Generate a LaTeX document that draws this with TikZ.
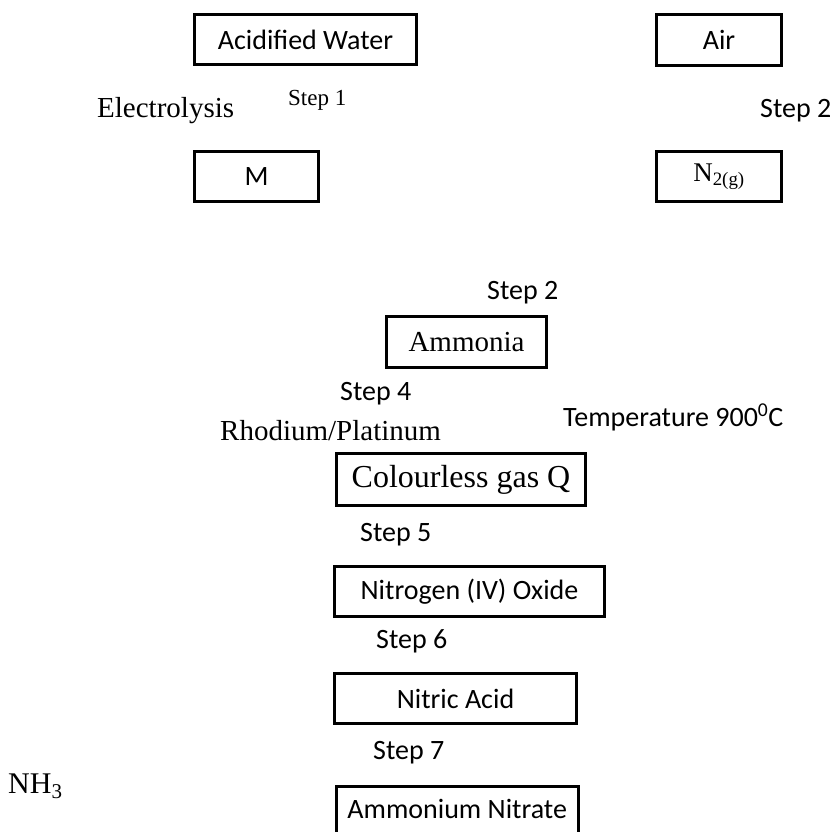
\documentclass[tikz,border=0pt]{standalone}
\usepackage{fontspec}
\setmainfont{Liberation Serif}
\newfontfamily\calibri{Carlito}
\begin{document}
\begin{tikzpicture}[x=1pt,y=-1pt,
  box/.style={draw, line width=3.4pt, inner sep=0pt},
  sanstxt/.style={font=\calibri\fontsize{28}{30}\selectfont},
  lbl/.style={inner sep=0pt, anchor=base west}]
\path[use as bounding box] (0,0) rectangle (835,831);
\clip (0,0) rectangle (835,831);
% boxes
\node[box, sanstxt, minimum width=222pt, minimum height=50pt] (aw) at (305.5,39.5) {Acidified Water};
\node[box, sanstxt, minimum width=125pt, minimum height=51pt] (air) at (719,40) {Air};
\node[box, sanstxt, minimum width=124pt, minimum height=50pt] (m) at (256.5,176.5) {M};
\node[box, font=\fontsize{27}{29}\selectfont, minimum width=125pt, minimum height=50pt] (n2) at (719,176.5) {N\textsubscript{2(g)}};
\node[box, font=\fontsize{29}{31}\selectfont, minimum width=160pt, minimum height=51pt] (ammonia) at (466.5,342) {Ammonia};
\node[box, font=\fontsize{32}{34}\selectfont, minimum width=249pt, minimum height=52pt] (q) at (461,479.5) {Colourless gas Q};
\node[box, sanstxt, minimum width=270pt, minimum height=50pt] (no2) at (469.5,591.5) {Nitrogen (IV) Oxide};
\node[box, sanstxt, minimum width=242pt, minimum height=50pt] (hno3) at (455.5,698.5) {Nitric Acid};
\node[box, sanstxt, minimum width=242pt, text height=32.5pt, text depth=60pt, anchor=north west] (an) at (334.5,784.5) {Ammonium Nitrate};
% labels
\node[lbl, sanstxt] (s2a) at (760,117) {Step 2};
\node[lbl, font=\fontsize{29}{31}\selectfont] (elec) at (97,117) {Electrolysis};
\node[lbl, font=\fontsize{23}{25}\selectfont] (s1) at (288,105) {Step 1};
\node[lbl, sanstxt] (s2b) at (487,299) {Step 2};
\node[lbl, sanstxt] (s4) at (340,400) {Step 4};
\node[lbl, font=\fontsize{29}{31}\selectfont] (rh) at (220,440) {Rhodium/Platinum};
\node[lbl, sanstxt] (temp) at (563,426) {Temperature 900\textsuperscript{0}C};
\node[lbl, sanstxt] (s5) at (360,541) {Step 5};
\node[lbl, sanstxt] (s6) at (376,648) {Step 6};
\node[lbl, sanstxt] (s7) at (373,759) {Step 7};
\node[lbl, font=\fontsize{30}{32}\selectfont] (nh3) at (8,793) {NH\textsubscript{3}};
\end{tikzpicture}
\end{document}
